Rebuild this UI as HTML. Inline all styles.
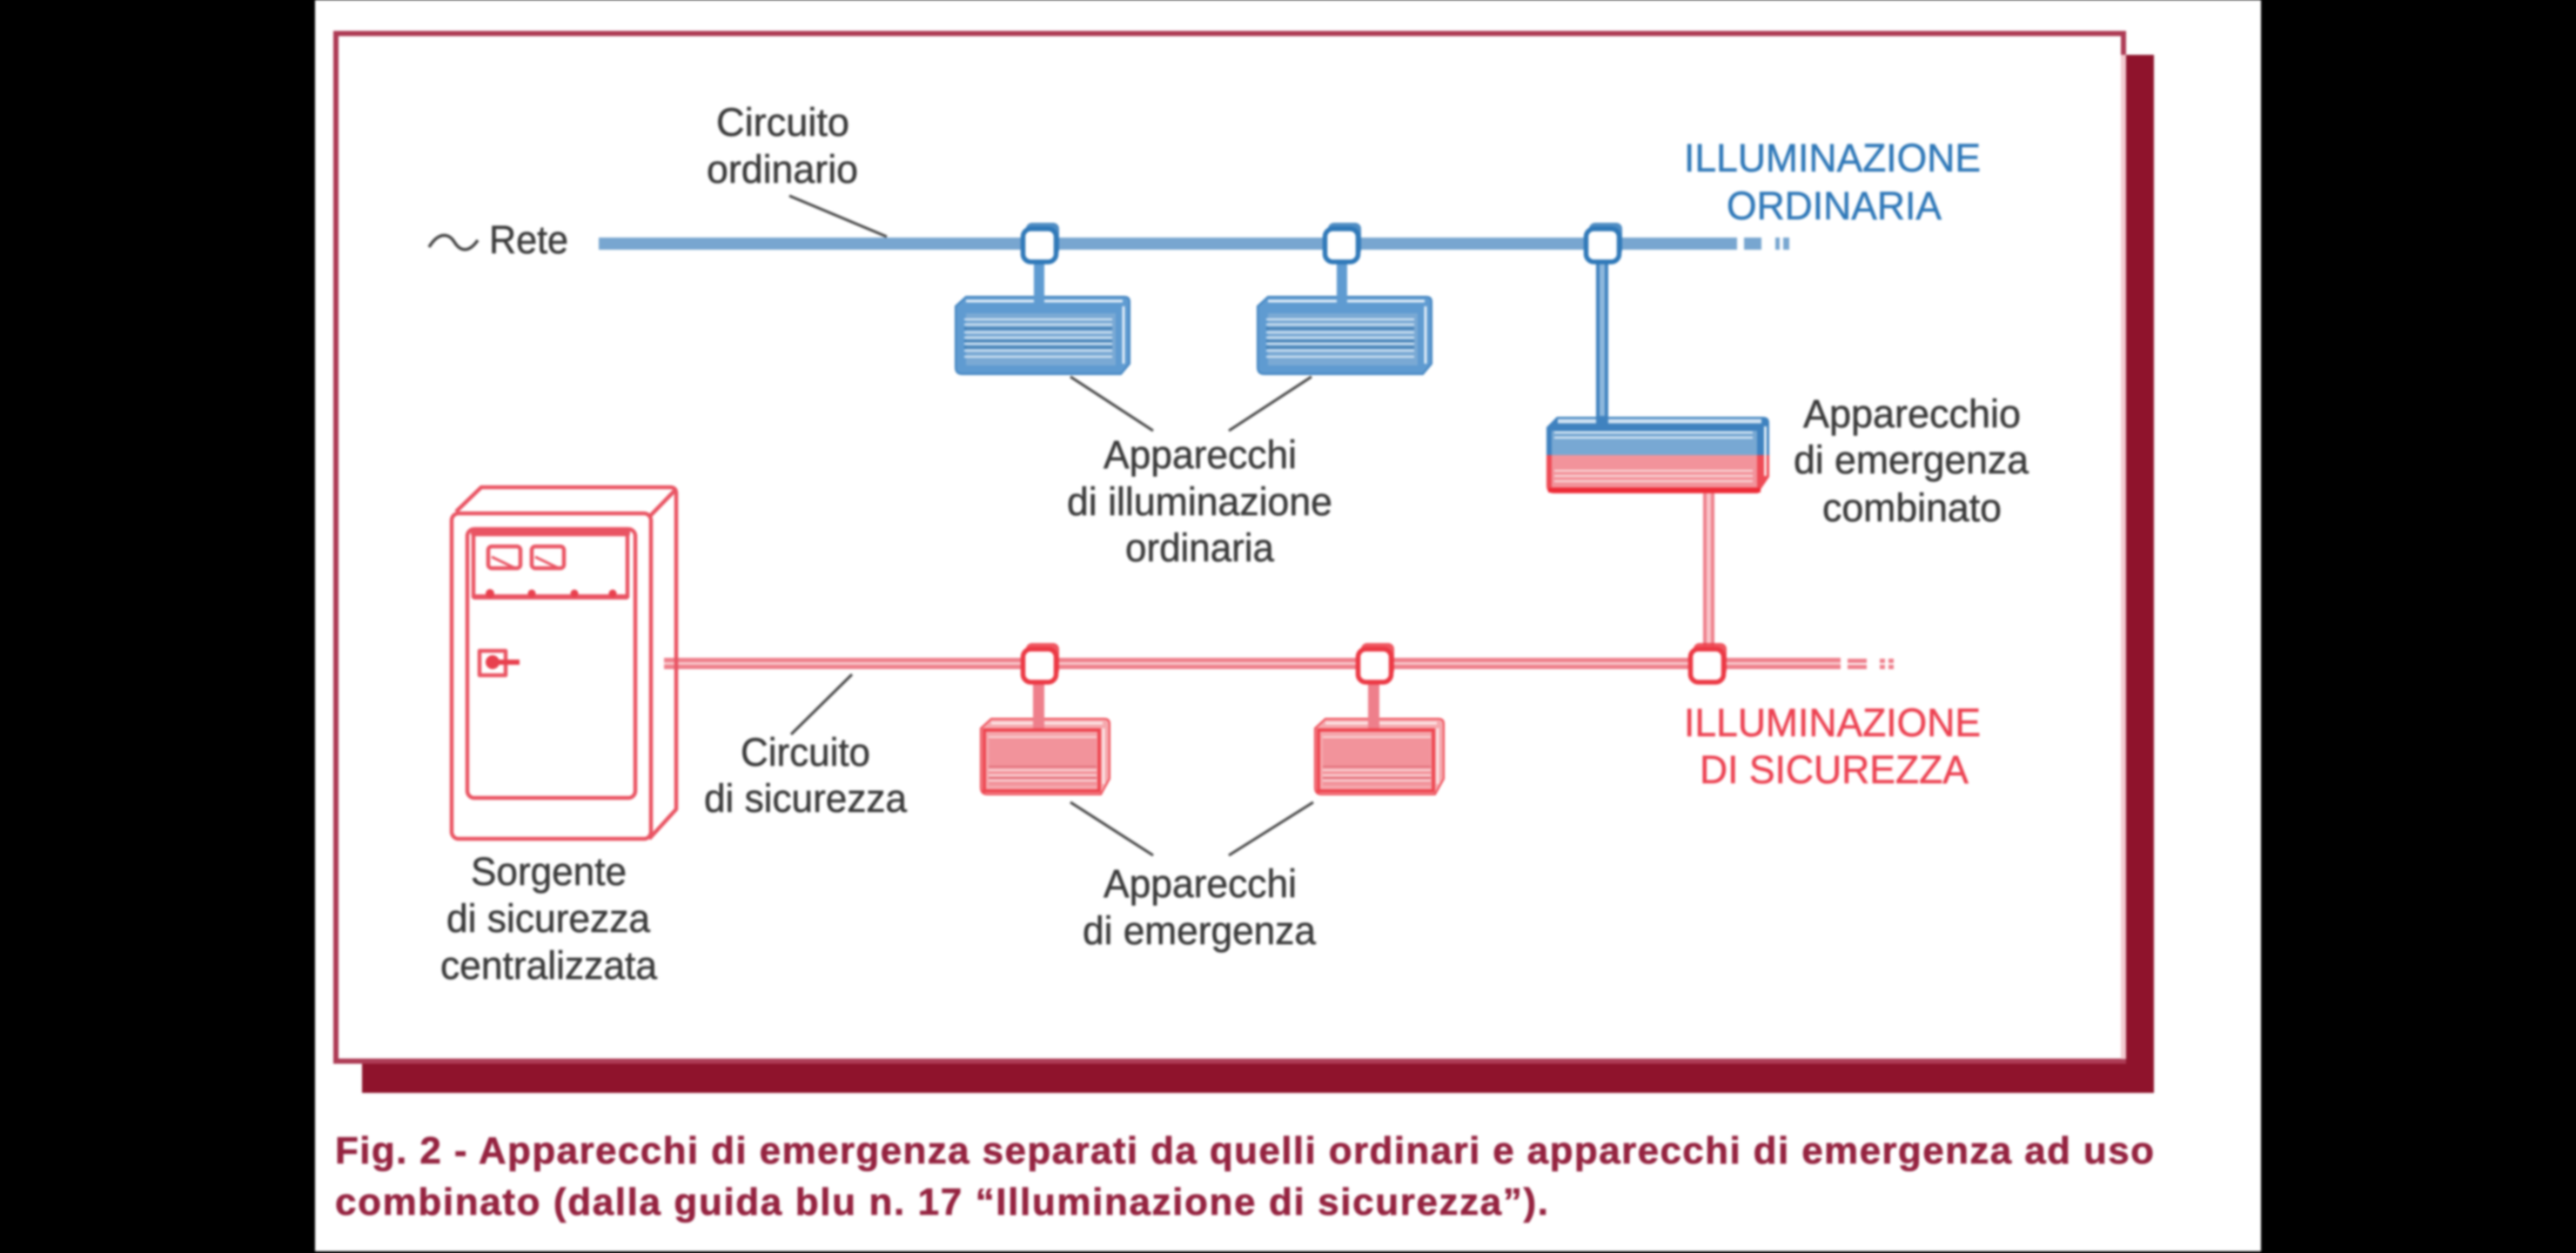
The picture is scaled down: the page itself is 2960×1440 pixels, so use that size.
<!DOCTYPE html>
<html lang="it"><head><meta charset="utf-8"><title>Fig. 2</title>
<style>
html,body{margin:0;padding:0;background:#000;width:2960px;height:1440px;overflow:hidden}
svg{display:block;filter:blur(1.4px)}
text{font-family:"Liberation Sans",sans-serif}
.g text{font-size:45px;fill:#3a3a3a;stroke:#3a3a3a;stroke-width:.5px}
.g text.b{fill:#2f78b8;stroke:#2f78b8}
.g text.r{fill:#ec4252;stroke:#ec4252}
.c text{font-size:44px;font-weight:bold;fill:#952340;stroke:#952340;stroke-width:.6px}
</style></head><body>
<svg width="2960" height="1440" viewBox="0 0 2960 1440" xmlns="http://www.w3.org/2000/svg">
<defs>
<g id="node">
<rect x="6" y="1" width="38" height="38" rx="7" fill="currentColor" opacity=".85"/>
<rect x="2.500" y="8" width="38" height="38" rx="9" fill="#fff" stroke="currentColor" stroke-width="5.500"/>
</g>
<g id="fb">
<path d="M12 1H194Q200 1 200 7V78L190 90H8Q0 90 0 82V12Z" fill="#5f9bd1" stroke="#3f82bf" stroke-width="2"/>
<path d="M12 6H192M193 12V78" stroke="#e4f0f9" stroke-width="3" fill="none"/>
<rect x="12" y="20" width="172" height="60" fill="#7aa9d4"/>
<path d="M10 27H180M10 33H180M10 42H180M10 48H180M10 55H180M10 63H180M10 70H180" stroke="#dcebf7" stroke-width="2"/>
<path d="M10 37.500H180M10 52H180M10 59H180" stroke="#2f70a8" stroke-width="1.800"/>
</g>
<g id="fr">
<path d="M12 1H142Q148 1 148 7V70L138 88H8Q0 88 0 80V12Z" fill="#f5a9ae" stroke="#ee4a55" stroke-width="2"/>
<path d="M12 6H140M141 12V76" stroke="#fde6e7" stroke-width="3" fill="none"/>
<path d="M4 14H136V84H4Z" fill="none" stroke="#ee4650" stroke-width="4"/>
<rect x="9" y="20" width="124" height="58" fill="#f2939b"/>
<path d="M9 22H133M9 60H133M9 66H133M9 72H133" stroke="#fbdcde" stroke-width="2"/>
<path d="M9 56H133M9 69H133" stroke="#d8606c" stroke-width="1.200"/>
</g>
</defs>

<rect width="2960" height="1440" fill="#000"/>
<rect x="362" y="0" width="2236" height="1438" fill="#fff"/>

<!-- frame and shadow -->
<rect x="416" y="63" width="2059" height="1193" fill="#8f132c"/>
<rect x="386" y="38.500" width="2054" height="1181" fill="#fff" stroke="#ad3b55" stroke-width="6"/>
<rect x="2437" y="63" width="6" height="1154" fill="#f3c9cf"/>

<!-- blue bus -->
<rect x="688" y="273" width="1308" height="14" fill="#78a6d0"/>
<rect x="2004" y="273" width="20" height="14" fill="#78a6d0"/>
<rect x="2040" y="273" width="5" height="14" fill="#78a6d0"/>
<rect x="2049" y="273" width="7" height="14" fill="#78a6d0"/>

<!-- blue stems -->
<rect x="1188" y="300" width="12" height="54" fill="#5f9bd1"/>
<rect x="1536" y="300" width="12" height="54" fill="#5f9bd1"/>
<rect x="1834" y="300" width="14" height="190" fill="#3f82bf"/>
<rect x="1838" y="300" width="6" height="190" fill="#8db7dc"/>

<!-- blue fixtures -->
<use href="#fb" transform="translate(1098 340)"/>
<use href="#fb" transform="translate(1445 340)"/>
<rect x="1188" y="340" width="12" height="14" fill="#5f9bd1"/>
<rect x="1536" y="340" width="12" height="14" fill="#5f9bd1"/>

<!-- combined fixture -->
<path d="M1789 479H2026Q2033 479 2033 486V523H1777V491Z" fill="#3f82bf"/>
<path d="M1777 523H2033V548L2020 567H1786Q1777 567 1777 558Z" fill="#ee4a55"/>
<path d="M1790 484H2024" stroke="#cfe2f2" stroke-width="5"/>
<rect x="2027" y="490" width="3" height="33" fill="#e4f0f9"/>
<rect x="2027" y="523" width="3" height="24" fill="#fde6e7"/>
<rect x="1783" y="495" width="236" height="28" fill="#78a8d3"/>
<rect x="1783" y="523" width="236" height="37" fill="#f2939b"/>
<path d="M1786 497H2014M1786 503H2014" stroke="#e4f0f9" stroke-width="2"/>
<path d="M1786 541H2014M1786 547H2014M1786 553H2014" stroke="#fbdcde" stroke-width="2"/>
<rect x="1834" y="478" width="14" height="12" fill="#3f82bf"/>
<rect x="1957" y="567" width="13" height="175" fill="#ee7f8b"/>
<rect x="1961" y="567" width="5" height="175" fill="#f9c5c9"/>
<rect x="1779" y="561" width="244" height="5" fill="#ee2a36"/>

<!-- blue nodes -->
<use href="#node" transform="translate(1173 255)" style="color:#2f78b8"/>
<use href="#node" transform="translate(1520 255)" style="color:#2f78b8"/>
<use href="#node" transform="translate(1820 255)" style="color:#2f78b8"/>

<!-- red bus -->
<rect x="763" y="756" width="1352" height="13" fill="#ee7f8b"/>
<rect x="763" y="761" width="1352" height="3" fill="#f9c9cc"/>
<rect x="2123" y="757" width="22" height="5" fill="#ee7f8b"/>
<rect x="2123" y="764" width="22" height="5" fill="#ee7f8b"/>
<rect x="2160" y="757" width="6" height="5" fill="#ee7f8b"/>
<rect x="2160" y="764" width="6" height="5" fill="#ee7f8b"/>
<rect x="2170" y="757" width="6" height="5" fill="#ee7f8b"/>
<rect x="2170" y="764" width="6" height="5" fill="#ee7f8b"/>

<!-- red stems and fixtures -->
<rect x="1187" y="783" width="13" height="55" fill="#ee7f8b"/>
<rect x="1572" y="783" width="13" height="55" fill="#ee7f8b"/>
<use href="#fr" transform="translate(1127 825)"/>
<use href="#fr" transform="translate(1511 825)"/>
<rect x="1187" y="825" width="13" height="12" fill="#ee7f8b"/>
<rect x="1572" y="825" width="13" height="12" fill="#ee7f8b"/>

<!-- red nodes -->
<use href="#node" transform="translate(1173 738)" style="color:#ec3844"/>
<use href="#node" transform="translate(1558 738)" style="color:#ec3844"/>
<use href="#node" transform="translate(1940 738)" style="color:#ec3844"/>

<!-- cabinet -->
<g fill="none" stroke="#e95463" stroke-width="4.500" stroke-linejoin="round">
<path d="M524 588L553 560H770Q777 560 777 567V930L746 964"/>
<path d="M746 594L777 562"/>
<rect x="519" y="590" width="229" height="374" rx="8" fill="#fff"/>
<rect x="537" y="608" width="193" height="309" rx="8"/>
<path d="M544 614H721V686H544Z"/>
<path d="M541 612H724" stroke-width="5.500"/>
<path d="M544 686H721" stroke-width="6"/>
<rect x="561" y="628" width="37" height="25" rx="4"/>
<rect x="611" y="628" width="37" height="25" rx="4"/>
<path d="M565 640L590 652M615 640L640 652" stroke-width="3"/>
<rect x="551" y="748" width="30" height="28"/>
</g>
<g fill="#e8404e">
<circle cx="563" cy="682" r="5"/><circle cx="611" cy="682" r="4.500"/><circle cx="660" cy="682" r="4.500"/><circle cx="704" cy="682" r="4.500"/>
<circle cx="566" cy="761" r="8"/><rect x="566" y="758" width="31" height="6"/>
</g>

<!-- leader lines -->
<g stroke="#444" stroke-width="3" fill="none">
<path d="M907 225L1019 272"/>
<path d="M1230 433L1325 495"/>
<path d="M1507 433L1412 495"/>
<path d="M979 775L909 844"/>
<path d="M1230 922L1325 983"/>
<path d="M1509 922L1412 983"/>
<path d="M493 284C504 266 516 268 522 278S538 292 549 276" stroke-width="3.500"/>
</g>

<!-- labels -->
<g class="g">
<text x="823" y="156" textLength="153" lengthAdjust="spacingAndGlyphs">Circuito</text>
<text x="812" y="210" textLength="174" lengthAdjust="spacingAndGlyphs">ordinario</text>
<text x="562" y="291" textLength="91" lengthAdjust="spacingAndGlyphs">Rete</text>
<text x="1268" y="538" textLength="222" lengthAdjust="spacingAndGlyphs">Apparecchi</text>
<text x="1226" y="592" textLength="305" lengthAdjust="spacingAndGlyphs">di illuminazione</text>
<text x="1293" y="645" textLength="171" lengthAdjust="spacingAndGlyphs">ordinaria</text>
<text x="2072" y="491" textLength="250" lengthAdjust="spacingAndGlyphs">Apparecchio</text>
<text x="2061" y="544" textLength="270" lengthAdjust="spacingAndGlyphs">di emergenza</text>
<text x="2094" y="599" textLength="206" lengthAdjust="spacingAndGlyphs">combinato</text>
<text x="851" y="880" textLength="149" lengthAdjust="spacingAndGlyphs">Circuito</text>
<text x="809" y="933" textLength="233" lengthAdjust="spacingAndGlyphs">di sicurezza</text>
<text x="541" y="1017" textLength="179" lengthAdjust="spacingAndGlyphs">Sorgente</text>
<text x="513" y="1071" textLength="234" lengthAdjust="spacingAndGlyphs">di sicurezza</text>
<text x="506" y="1125" textLength="249" lengthAdjust="spacingAndGlyphs">centralizzata</text>
<text x="1268" y="1031" textLength="222" lengthAdjust="spacingAndGlyphs">Apparecchi</text>
<text x="1244" y="1085" textLength="268" lengthAdjust="spacingAndGlyphs">di emergenza</text>
<text class="b" x="1935" y="197" textLength="341" lengthAdjust="spacingAndGlyphs">ILLUMINAZIONE</text>
<text class="b" x="1984" y="252" textLength="247" lengthAdjust="spacingAndGlyphs">ORDINARIA</text>
<text class="r" x="1935" y="846" textLength="341" lengthAdjust="spacingAndGlyphs">ILLUMINAZIONE</text>
<text class="r" x="1953" y="900" textLength="309" lengthAdjust="spacingAndGlyphs">DI SICUREZZA</text>
</g>

<!-- caption -->
<g class="c">
<text x="385" y="1337" textLength="2090" lengthAdjust="spacing">Fig. 2 - Apparecchi di emergenza separati da quelli ordinari e apparecchi di emergenza ad uso</text>
<text x="385" y="1396" textLength="1394" lengthAdjust="spacing">combinato (dalla guida blu n. 17 “Illuminazione di sicurezza”).</text>
</g>
</svg>
</body></html>
